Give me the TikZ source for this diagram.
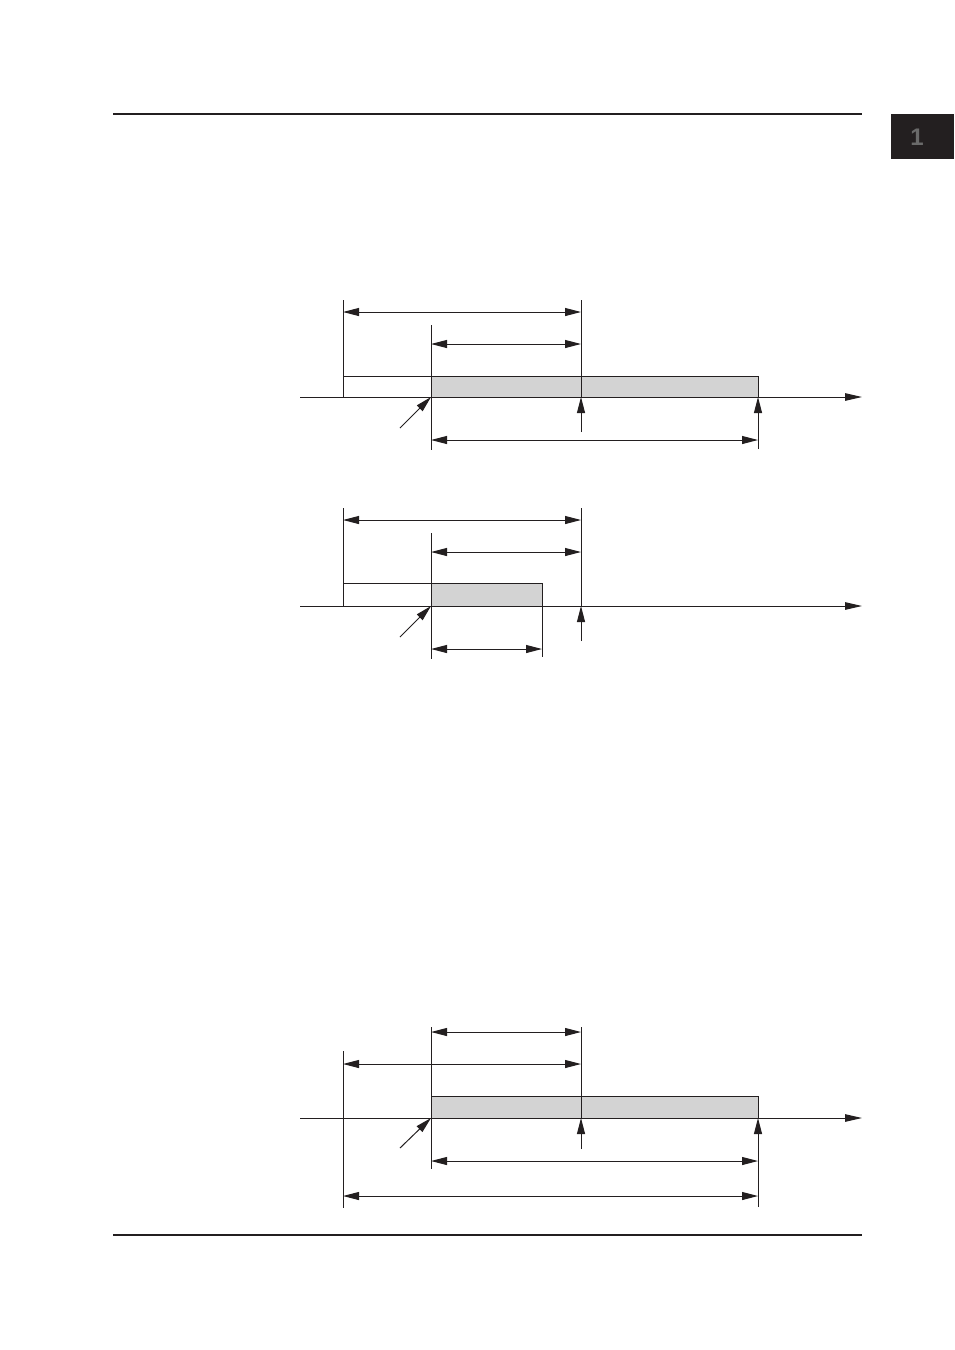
\documentclass[tikz,border=0pt]{standalone}
\usepackage{fontspec}
\setmainfont{Liberation Sans}
\usetikzlibrary{arrows.meta}
\definecolor{ink}{HTML}{231F20}
\definecolor{shade}{HTML}{D3D3D3}
\definecolor{tabgray}{HTML}{6A6A6A}
\tikzset{
  ln/.style={draw=ink, line width=1pt},
  tipA/.tip={Triangle[length=16pt,width=8pt]},
  dimarrow/.style={ln, {tipA}-{tipA}},
  onearrow/.style={ln, -{tipA}},
  axis/.style={ln, -{Triangle[length=17pt,width=7.5pt]}},
  bar/.style={ln, fill=shade},
  openbar/.style={ln, fill=white},
  rule/.style={draw=ink, line width=1.3pt}
}
\begin{document}
\begin{tikzpicture}[x=1pt,y=-1pt]
\useasboundingbox (0,0) rectangle (954,1350);
% page rules and tab
\draw[rule] (113,114) -- (862,114);
\draw[rule] (113,1235) -- (862,1235);
\fill[ink] (891,114) rectangle (954,159);
\node[text=tabgray, font=\bfseries\fontsize{24}{24}\selectfont] (tab) at (917,137) {1};

% ===== Diagram 1 =====
\coordinate (a1) at (343,397);
\coordinate (b1) at (431,397);
\coordinate (c1) at (581,397);
\coordinate (d1) at (758,397);
\draw[openbar] (343,376) rectangle (431,397);
\draw[bar] (431,376) rectangle (758,397);
\draw[axis] (300,397) -- (862,397);
\draw[ln] (343,300) -- (a1);
\draw[ln] (431,325) -- (431,450);
\draw[ln] (581,300) -- (c1);
\draw[onearrow] (581,432) -- (c1);
\draw[onearrow] (758,449) -- (d1);
\draw[dimarrow] (343,312) -- (581,312);
\draw[dimarrow] (431,344) -- (581,344);
\draw[dimarrow] (431,440) -- (758,440);
\coordinate (s1) at (400,428);
\draw[onearrow] (s1) -- (b1);

% ===== Diagram 2 =====
\coordinate (a2) at (343,606);
\coordinate (b2) at (431,606);
\coordinate (c2) at (581,606);
\draw[openbar] (343,583) rectangle (431,606);
\draw[bar] (431,583) rectangle (542,606);
\draw[axis] (300,606) -- (862,606);
\draw[ln] (343,508) -- (a2);
\draw[ln] (431,533) -- (431,659);
\draw[ln] (542,583) -- (542,657);
\draw[ln] (581,508) -- (c2);
\draw[onearrow] (581,641) -- (c2);
\draw[dimarrow] (343,520) -- (581,520);
\draw[dimarrow] (431,552) -- (581,552);
\draw[dimarrow] (431,649) -- (542,649);
\coordinate (s2) at (400,637);
\draw[onearrow] (s2) -- (b2);

% ===== Diagram 3 =====
\coordinate (b3) at (431,1118);
\coordinate (c3) at (581,1118);
\coordinate (d3) at (758,1118);
\draw[bar] (431,1096) rectangle (758,1118);
\draw[axis] (300,1118) -- (862,1118);
\draw[ln] (343,1051) -- (343,1208);
\draw[ln] (431,1027) -- (431,1169);
\draw[ln] (581,1027) -- (c3);
\draw[onearrow] (581,1149) -- (c3);
\draw[onearrow] (758,1207) -- (d3);
\draw[dimarrow] (431,1032) -- (581,1032);
\draw[dimarrow] (343,1064) -- (581,1064);
\draw[dimarrow] (431,1161) -- (758,1161);
\draw[dimarrow] (343,1196) -- (758,1196);
\coordinate (s3) at (400,1148);
\draw[onearrow] (s3) -- (b3);
\end{tikzpicture}
\end{document}
